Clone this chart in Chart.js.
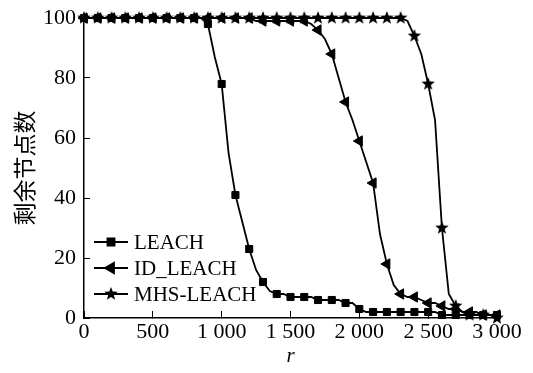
<!DOCTYPE html>
<html>
<head>
<meta charset="utf-8">
<script src="https://cdn.jsdelivr.net/npm/chart.js@4.4.0/dist/chart.umd.min.js"></script>
<style>
  html, body { margin: 0; padding: 0; background: #fff; }
  #wrap { width: 533px; height: 373px; }
</style>
</head>
<body>
<div id="wrap"><canvas id="c" width="533" height="373"></canvas></div>
<script>
// rounds r (every 50)
const rounds = [0, 50, 100, 150, 200, 250, 300, 350, 400, 450, 500, 550, 600, 650, 700, 750, 800, 850,
  900, 950, 1000, 1050, 1100, 1150, 1200, 1250, 1300, 1350, 1400, 1450, 1500, 1550, 1600, 1650,
  1700, 1750, 1800, 1850, 1900, 1950, 2000, 2050, 2100, 2150, 2200, 2250, 2300, 2350, 2400, 2450,
  2500, 2550, 2600, 2650, 2700, 2750, 2800, 2850, 2900, 2950, 3000];

// remaining nodes
const leach = [100, 100, 100, 100, 100, 100, 100, 100, 100, 100, 100, 100, 100, 100, 100, 100, 100, 100,
  98, 87, 78, 55, 41, 32, 23, 16, 12, 9, 8, 8, 7, 7, 7, 7, 6, 6, 6, 6, 5, 5, 3,
  2, 2, 2, 2, 2, 2, 2, 2, 2, 2, 2, 1, 1, 1, 1, 1, 1, 1, 1, 1];
const idLeach = [100, 100, 100, 100, 100, 100, 100, 100, 100, 100, 100, 100, 100, 100, 100, 100, 100,
  100, 100, 100, 100, 100, 100, 100, 100, 99, 99, 99, 99, 99, 99, 99, 99,
  98, 96, 93, 88, 80, 72, 66, 59, 52, 45, 28, 18, 11, 8, 7, 7, 6, 5, 5, 4, 3, 3, 2, 2, 2, 1, 1, 1];
const mhsLeach = [100, 100, 100, 100, 100, 100, 100, 100, 100, 100, 100, 100, 100, 100, 100, 100, 100,
  100, 100, 100, 100, 100, 100, 100, 100, 100, 100, 100, 100, 100, 100, 100, 100, 100, 100, 100, 100,
  100, 100, 100, 100, 100, 100, 100, 100, 100, 100,
  99, 94, 88, 78, 66, 30, 8, 4, 2, 1, 1, 1, 1, 0];

const seriesNames = ['LEACH', 'ID_LEACH', 'MHS-LEACH'];
const xTicks = [0, 500, 1000, 1500, 2000, 2500, 3000];
const yTicks = [0, 20, 40, 60, 80, 100];

// filled five point star as a point image
function makeStar(r) {
  const cv = document.createElement('canvas');
  const s = Math.ceil(r * 2 + 2);
  cv.width = s; cv.height = s;
  const g = cv.getContext('2d');
  g.fillStyle = '#000';
  g.beginPath();
  for (let i = 0; i < 10; i++) {
    const rad = i % 2 === 0 ? r : r * 0.42;
    const a = -Math.PI / 2 + i * Math.PI / 5;
    const px = s / 2 + rad * Math.cos(a), py = s / 2 + rad * Math.sin(a);
    if (i === 0) g.moveTo(px, py); else g.lineTo(px, py);
  }
  g.closePath();
  g.fill();
  return cv;
}
const star = makeStar(7);

function pts(vals) {
  return rounds.map((r, i) => ({ x: r, y: vals[i] }));
}
const showMarker = ctx => (ctx.raw && ctx.raw.x % 100 === 0 ? 1 : 0);

const styles = [
  { pointStyle: 'rect', radius: 5, rotation: 0 },
  { pointStyle: 'triangle', radius: 6, rotation: -90 },
  { pointStyle: star, radius: 7, rotation: 0 }
];

const datasets = [leach, idLeach, mhsLeach].map((vals, i) => ({
  label: seriesNames[i],
  data: pts(vals),
  borderColor: '#000',
  backgroundColor: '#000',
  borderWidth: 1.8,
  pointStyle: styles[i].pointStyle,
  pointRotation: styles[i].rotation,
  pointRadius: ctx => showMarker(ctx) * styles[i].radius,
  pointBorderWidth: 1,
  pointBorderColor: '#000',
  pointBackgroundColor: '#000',
  tension: 0,
  clip: false,
  order: 2 - i
}));

// legend with a line through the marker, inside the plot
const lineLegend = {
  id: 'lineLegend',
  afterDraw(chart) {
    const ctx = chart.ctx;
    const a = chart.chartArea;
    ctx.save();
    chart.data.datasets.forEach((ds, i) => {
      const y = a.top + 224 + i * 26;
      const x0 = a.left + 10, x1 = a.left + 44;
      ctx.strokeStyle = '#000';
      ctx.lineWidth = 1.8;
      ctx.beginPath();
      ctx.moveTo(x0, y); ctx.lineTo(x1, y); ctx.stroke();
      ctx.fillStyle = '#000';
      Chart.helpers.drawPoint(ctx, {
        pointStyle: styles[i].pointStyle,
        rotation: styles[i].rotation,
        radius: styles[i].radius,
        borderWidth: 1
      }, (x0 + x1) / 2, y);
      ctx.fillStyle = '#000';
      ctx.font = '21px "Liberation Serif"';
      ctx.textBaseline = 'middle';
      ctx.textAlign = 'left';
      ctx.fillText(ds.label, x1 + 6, y + 1);
    });
    ctx.restore();
  }
};

const tickFont = { family: 'Liberation Serif', size: 22 };

new Chart(document.getElementById('c'), {
  type: 'line',
  data: { datasets },
  options: {
    responsive: false,
    animation: false,
    layout: { padding: { top: 18, right: 36, left: 0, bottom: 0 } },
    plugins: { legend: { display: false }, tooltip: { enabled: false } },
    scales: {
      x: {
        type: 'linear',
        min: 0,
        max: 3000,
        afterBuildTicks: s => { s.ticks = xTicks.map(v => ({ value: v })); },
        afterFit: s => { s.height = 55; s.paddingLeft = 0; s.paddingRight = 0; },
        ticks: {
          color: '#000',
          font: tickFont,
          padding: 8,
          maxRotation: 0,
          callback: v => v >= 1000 ? String(v).replace(/(\d)(\d{3})$/, '$1 $2') : String(v)
        },
        grid: { drawOnChartArea: false, drawTicks: true, tickLength: -7, color: '#000', tickWidth: 1 },
        border: { color: '#000', width: 1.5 },
        title: {
          display: true,
          text: 'r',
          color: '#000',
          font: { family: 'Liberation Serif', size: 21, style: 'italic' },
          padding: { top: 0, bottom: 4 }
        }
      },
      y: {
        min: 0,
        max: 100,
        afterBuildTicks: s => { s.ticks = yTicks.map(v => ({ value: v })); },
        afterFit: s => { s.width = 84; s.paddingTop = 0; s.paddingBottom = 0; },
        ticks: { color: '#000', font: tickFont, padding: 14 },
        grid: { drawOnChartArea: false, drawTicks: true, tickLength: -6, color: '#000', tickWidth: 1 },
        border: { color: '#000', width: 1.5 },
        title: {
          display: true,
          text: '剩余节点数',
          color: '#000',
          font: { family: 'Noto Sans CJK SC', size: 23 },
          padding: { top: 10, bottom: 0 }
        }
      }
    }
  },
  plugins: [lineLegend]
});
</script>
</body>
</html>
